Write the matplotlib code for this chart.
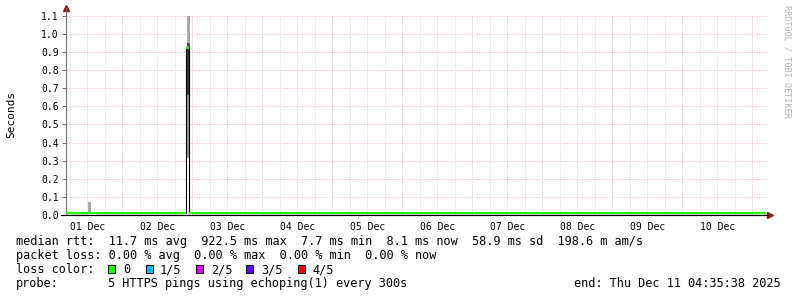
import numpy as np
import matplotlib
matplotlib.use("Agg")
import matplotlib.pyplot as plt
from matplotlib.patches import Rectangle

plt.rcParams['font.family'] = ['DejaVu Sans Mono']

W, H = 797, 297

# time axis in hours since 01 Dec 00:00
t_start = 4.594
t_end = 244.594
day_labels = ['01 Dec', '02 Dec', '03 Dec', '04 Dec', '05 Dec',
              '06 Dec', '07 Dec', '08 Dec', '09 Dec', '10 Dec']
day_label_hours = [12, 36, 60, 84, 108, 132, 156, 180, 204, 228]
y_ticks = [0.0, 0.1, 0.2, 0.3, 0.4, 0.5, 0.6, 0.7, 0.8, 0.9, 1.0, 1.1]

# median rtt (seconds), step segments
median_edges = [4.594, 45.9, 47.0, 244.594]
median_vals = [0.0117, 0.922, 0.0117]

# smoke: sorted ping times for each burst
smoke_t0 = [12.2, 46.2]
smoke_t1 = [13.3, 47.2]
smoke_pings = [[0.0085, 0.0095, 0.011, 0.013, 0.070],
               [0.315, 0.663, 0.922, 0.950, 1.105]]
smoke_colors = ['#9a9a9a', '#383838', '#505050', '#a8a8a8']

loss_labels = ['0', '1/5', '2/5', '3/5', '4/5']
loss_colors = ['#26ff00', '#00b8ff', '#dd00ff', '#5e00ff', '#ff0000']

rtt_stats = ['11.7 ms avg', '922.5 ms max', '7.7 ms min', '8.1 ms now',
             '58.9 ms sd', '198.6 m am/s']
loss_stats = ['0.00 % avg', '0.00 % max', '0.00 % min', '0.00 % now']


def fx(x):
    return x / W


def fy(y):
    return 1 - y / H


fig = plt.figure(figsize=(W / 100, H / 100), dpi=100)
ax = fig.add_axes([fx(65.7), fy(215), fx(700), (215 - 15.7) / H])
ax.set_xlim(t_start, t_end)
ax.set_ylim(0, 1.1)

# grid
red = '#f2b8b8'
grey = '#d6d6d6'
for h in range(6, 241, 6):
    if h % 24 == 0:
        ax.axvline(h, color=red, lw=0.6, ls=(0, (1.5, 1.5)), zorder=0)
    else:
        ax.axvline(h, color=grey, lw=0.6, ls=(0, (1.5, 1.5)), zorder=0)
for v in y_ticks[1:]:
    ax.axhline(v, color=red, lw=0.6, ls=(0, (1.5, 1.5)), zorder=0, xmax=1.003, clip_on=False)

# smoke
for t0, t1, p in zip(smoke_t0, smoke_t1, smoke_pings):
    for i in range(len(p) - 1):
        ax.fill_between([t0, t1], [p[i], p[i]], [p[i + 1], p[i + 1]],
                        color=smoke_colors[i], lw=0, zorder=2)

# median line
ax.stairs(median_vals, median_edges, baseline=None, color='black', lw=0.8, zorder=3)
ax.hlines(median_vals, median_edges[:-1], median_edges[1:],
          color=loss_colors[0], lw=1.6, zorder=4)

# axes styling
for s in ['top', 'right']:
    ax.spines[s].set_visible(False)
ax.spines['left'].set_color('#707070')
ax.spines['bottom'].set_color('black')
ax.spines['left'].set_bounds(0, 1.14)
ax.plot([1.006], [0], marker='>', ms=4, color='#8b1a1a', transform=ax.transAxes, clip_on=False)
ax.plot([0], [1.038], marker='^', ms=4, color='#8b1a1a', transform=ax.transAxes, clip_on=False)
ax.plot([-0.007, 1.003], [0, 0], color='black', lw=0.8, transform=ax.transAxes, clip_on=False)

ax.set_yticks(y_ticks)
ax.set_yticklabels([f'{v:.1f}' for v in y_ticks])
ax.tick_params(axis='y', direction='out', length=3, width=0.7, color='#707070',
               labelsize=7, pad=2)
ax.set_xticks(day_label_hours)
ax.set_xticklabels(day_labels)
ax.tick_params(axis='x', length=0, labelsize=7, pad=5)

fig.text(fx(11.5), fy(114), 'Seconds', rotation=90, ha='center', va='center', fontsize=8)
fig.text(fx(787.5), fy(5), 'RRDTOOL / TOBI OETIKER', rotation=270, ha='center', va='top',
         fontsize=6.1, color='#b0b0b0')

# legend
fs = 8.6
fig.text(fx(16), fy(245.3), 'median rtt:  ' + '  '.join(rtt_stats), fontsize=fs, va='baseline')
fig.text(fx(16), fy(259.3), 'packet loss: ' + '  '.join(loss_stats), fontsize=fs, va='baseline')
fig.text(fx(16), fy(273.3), 'loss color:', fontsize=fs, va='baseline')
box_x = [108.3, 145.7, 196.0, 246.0, 297.7]
text_x = [123.3, 160.0, 210.7, 261.7, 312.3]
for bx, tx, lab, col in zip(box_x, text_x, loss_labels, loss_colors):
    fig.patches.append(Rectangle((fx(bx), fy(273.3)), 7 / W, 8 / H, transform=fig.transFigure,
                                 facecolor=col, edgecolor='black', lw=0.7))
    fig.text(fx(tx), fy(273.3), lab, fontsize=fs, va='baseline')
fig.text(fx(16), fy(287.3), 'probe:', fontsize=fs, va='baseline')
fig.text(fx(108.3), fy(287.3), '5 HTTPS pings using echoping(1) every 300s', fontsize=fs, va='baseline')
fig.text(fx(781), fy(287.3), 'end: Thu Dec 11 04:35:38 2025', fontsize=fs, va='baseline', ha='right')

fig.savefig('out.png', dpi=100)
